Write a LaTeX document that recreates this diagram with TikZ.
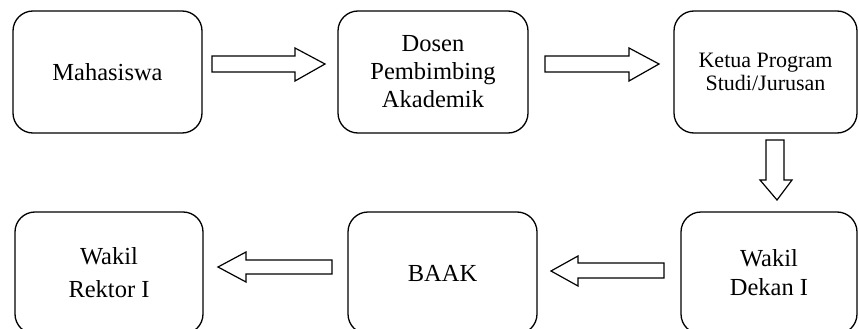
\documentclass[tikz,border=0pt]{standalone}
\usepackage{fontspec}
\setmainfont{Liberation Serif}
\begin{document}
\begin{tikzpicture}[x=1pt,y=-1pt,
  box/.style={draw=black,line width=1.3pt,rounded corners=20pt,inner sep=0pt,align=center,font=\fontsize{24.5}{28}\selectfont},
  blockarrow/.style={draw=black,fill=white,line width=1.2pt,line join=miter}]
\useasboundingbox (0,0) rectangle (859,329);
\clip (0,0) rectangle (859,329);
% top row
\node[box,minimum width=189pt,minimum height=122pt] (mhs) at (107.5,72) {Mahasiswa};
\node[box,minimum width=190pt,minimum height=122pt] (dpa) at (433,72) {Dosen\\Pembimbing\\Akademik};
\node[box,minimum width=183pt,minimum height=122pt,font=\fontsize{22}{23}\selectfont] (kps) at (765.5,72) {Ketua Program\\Studi/Jurusan};
% bottom row
\node[box,minimum width=188pt,minimum height=122pt,font=\fontsize{24.5}{33}\selectfont] (wr) at (109,273) {Wakil\\Rektor I};
\node[box,minimum width=189pt,minimum height=122pt] (baak) at (442.5,273) {BAAK};
\node[box,minimum width=176pt,minimum height=122pt,font=\fontsize{24.5}{29}\selectfont] (wd) at (769,273) {Wakil\\Dekan I};
% block arrows
\draw[blockarrow] (212,56) -- (295,56) -- (295,48) -- (325,64) -- (295,81) -- (295,72) -- (212,72) -- cycle;
\draw[blockarrow] (545,56) -- (629,56) -- (629,48) -- (659,64) -- (629,81) -- (629,72) -- (545,72) -- cycle;
\draw[blockarrow] (766,140) -- (784,140) -- (784,180) -- (792,180) -- (777,200) -- (760,180) -- (766,180) -- cycle;
\draw[blockarrow] (332,260) -- (246,260) -- (246,252) -- (218,267) -- (246,282) -- (246,274) -- (332,274) -- cycle;
\draw[blockarrow] (664,263) -- (578,263) -- (578,256) -- (551,271) -- (578,286) -- (578,278) -- (664,278) -- cycle;
\end{tikzpicture}
\end{document}
